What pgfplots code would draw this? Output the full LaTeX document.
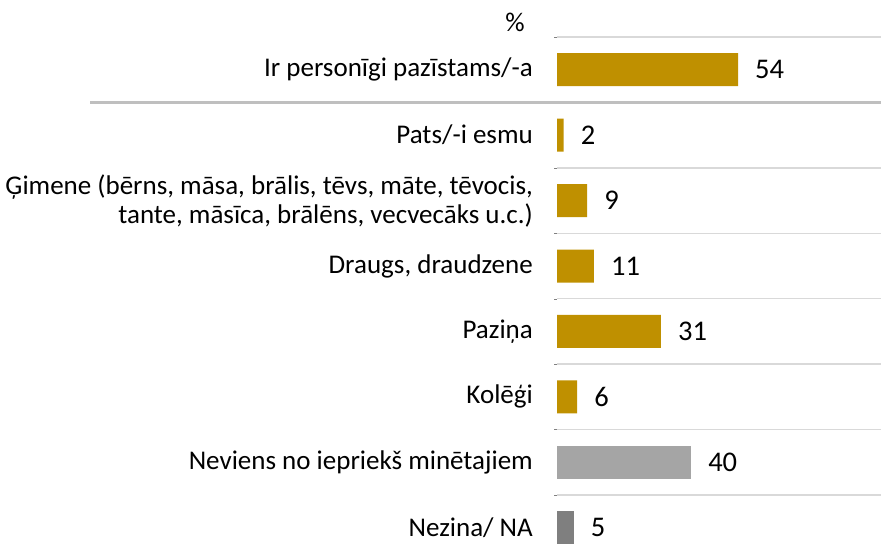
\documentclass[border=0pt]{standalone}
\usepackage{pgfplots}
\pgfplotsset{compat=1.18}
\usepackage{fontspec}
\setmainfont{Carlito}
\definecolor{gold}{HTML}{BF9000}
\definecolor{lgray}{HTML}{A5A5A5}
\definecolor{dgray}{HTML}{7F7F7F}
\definecolor{gridc}{HTML}{D9D9D9}
\definecolor{sepc}{HTML}{BFBFBF}
\begin{document}
\begin{tikzpicture}
\useasboundingbox (0,0) rectangle (881bp,555bp);
\begin{axis}[
  at={(557bp,0bp)}, anchor=south west,
  scale only axis, width=324bp, height=518bp,
  xbar, bar shift=0pt, bar width=33bp,
  xmin=0, xmax=96.66,
  ymin=-0.5, ymax=7.417, y dir=reverse,
  axis line style={draw=none},
  xtick=\empty,
  ytick={0,1,2,3,4,5,6,7},
  yticklabels={Ir personīgi pazīstams/-a, Pats/-i esmu, {Ģimene (bērns, māsa, brālis, tēvs, māte, tēvocis,\\tante, māsīca, brālēns, vecvecāks u.c.)}, {Draugs, draudzene}, Paziņa, Kolēģi, Neviens no iepriekš minētajiem, Nezina/ NA},
  major tick length=0pt,
  yticklabel style={font=\fontsize{27bp}{29bp}\selectfont, align=right, anchor=east, inner sep=0pt, xshift=-24bp},
  minor ytick={-0.5,0.5,1.5,2.5,3.5,4.5,5.5,6.5},
  yminorgrids, minor grid style={gridc, line width=1.5bp},
  /pgf/number format/assume math mode=true,
  nodes near coords,
  nodes near coords style={font=\fontsize{28.5bp}{30bp}\selectfont, anchor=west, inner sep=0pt, xshift=17bp, black},
  clip=false,
]
\addplot[fill=gold, draw=none] coordinates {(54,0) (2,1) (9,2) (11,3) (31,4) (6,5)};
\addplot[fill=lgray, draw=none] coordinates {(40,6)};
\addplot[fill=dgray, draw=none] coordinates {(5,7)};
\draw[sepc, line width=3.5bp] (axis cs:-139.3,0.5) -- (axis cs:96.66,0.5);
\end{axis}
\node[font=\fontsize{27bp}{29bp}\selectfont] at (515bp,533bp) {\%};
\end{tikzpicture}
\end{document}
